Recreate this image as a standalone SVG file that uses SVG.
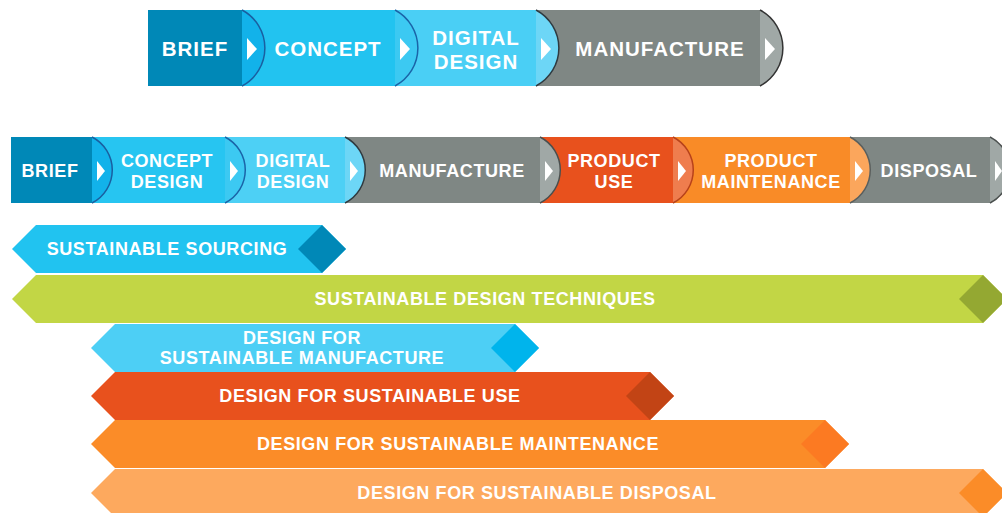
<svg xmlns="http://www.w3.org/2000/svg" width="1002" height="513" viewBox="0 0 1002 513">
<style>
.t{font-family:"Liberation Sans",Arial,sans-serif;font-weight:bold;fill:#fff;text-anchor:middle;dominant-baseline:central}
.t1{font-size:20.5px;letter-spacing:1px}
.t2{font-size:18px;letter-spacing:0.6px}
.t3{font-size:18px;letter-spacing:0.6px}
.tri{fill:#fff}
</style>
<rect width="1002" height="513" fill="#fff"/>
<g id="top-row">
  <g id="top-brief"><rect x="148" y="10" width="94" height="76" fill="#0088b7"/><text class="t t1" x="195" y="48">BRIEF</text></g>
  <g id="top-concept"><rect x="242" y="10" width="153" height="76" fill="#22c3f0"/><text class="t t1" x="328" y="48">CONCEPT</text></g>
  <g id="top-digital"><rect x="395" y="10" width="141" height="76" fill="#4acff5"/><text class="t t1" x="476" y="37">DIGITAL</text><text class="t t1" x="476" y="61">DESIGN</text></g>
  <g id="top-manufacture"><rect x="536" y="10" width="224" height="76" fill="#7f8784"/><text class="t t1" x="660" y="48">MANUFACTURE</text></g>
  <g id="top-tabs">
    <path d="M242,10 A43,43 0 0 1 242,86 Z" fill="#12b2ea"/><path d="M242,10 A43,43 0 0 1 242,86" fill="none" stroke="#1a5fa0" stroke-width="1.5"/><path class="tri" d="M247,38 L257,49 L247,60 Z"/>
    <path d="M395,10 A43,43 0 0 1 395,86 Z" fill="#3cc9f2"/><path d="M395,10 A43,43 0 0 1 395,86" fill="none" stroke="#1a64a8" stroke-width="1.5"/><path class="tri" d="M400,38 L410,49 L400,60 Z"/>
    <path d="M536,10 A43,43 0 0 1 536,86 Z" fill="#6dd6f6"/><path d="M536,10 A43,43 0 0 1 536,86" fill="none" stroke="#2f3a40" stroke-width="1.5"/><path class="tri" d="M541,38 L551,49 L541,60 Z"/>
    <path d="M760,10 A43,43 0 0 1 760,86 Z" fill="#a0a8a6"/><path d="M760,10 A43,43 0 0 1 760,86" fill="none" stroke="#333" stroke-width="1.5"/><path class="tri" d="M765,38 L775,49 L765,60 Z"/>
  </g>
</g>
<g id="second-row">
  <g id="r2-brief"><rect x="11" y="137" width="81" height="66" fill="#0088b7"/><text class="t t2" x="50" y="171">BRIEF</text></g>
  <g id="r2-concept"><rect x="92" y="137" width="133" height="66" fill="#27c5f1"/><text class="t t2" x="167" y="161">CONCEPT</text><text class="t t2" x="167" y="182">DESIGN</text></g>
  <g id="r2-digital"><rect x="225" y="137" width="120" height="66" fill="#4dd0f5"/><text class="t t2" x="293" y="161">DIGITAL</text><text class="t t2" x="293" y="182">DESIGN</text></g>
  <g id="r2-manufacture"><rect x="345" y="137" width="195" height="66" fill="#7f8784"/><text class="t t2" x="452" y="171">MANUFACTURE</text></g>
  <g id="r2-use"><rect x="540" y="137" width="133" height="66" fill="#e8511d"/><text class="t t2" x="614" y="161">PRODUCT</text><text class="t t2" x="614" y="182">USE</text></g>
  <g id="r2-maintenance"><rect x="673" y="137" width="177" height="66" fill="#f98b27"/><text class="t t2" x="771" y="161">PRODUCT</text><text class="t t2" x="771" y="182">MAINTENANCE</text></g>
  <g id="r2-disposal"><rect x="850" y="137" width="140" height="66" fill="#7f8784"/><text class="t t2" x="929" y="171">DISPOSAL</text></g>
  <g id="r2-tabs">
    <path d="M92,137 A37,37 0 0 1 92,203 Z" fill="#12b2ea"/><path d="M92,137 A37,37 0 0 1 92,203" fill="none" stroke="#1a5fa0" stroke-width="1.5"/><path class="tri" d="M97,161 L105,171 L97,181 Z"/>
    <path d="M225,137 A37,37 0 0 1 225,203 Z" fill="#3cc9f2"/><path d="M225,137 A37,37 0 0 1 225,203" fill="none" stroke="#1a64a8" stroke-width="1.5"/><path class="tri" d="M230,161 L238,171 L230,181 Z"/>
    <path d="M345,137 A37,37 0 0 1 345,203 Z" fill="#6dd6f6"/><path d="M345,137 A37,37 0 0 1 345,203" fill="none" stroke="#2f3a40" stroke-width="1.5"/><path class="tri" d="M350,161 L358,171 L350,181 Z"/>
    <path d="M540,137 A37,37 0 0 1 540,203 Z" fill="#a0a8a6"/><path d="M540,137 A37,37 0 0 1 540,203" fill="none" stroke="#4a4f4e" stroke-width="1.5"/><path class="tri" d="M545,161 L553,171 L545,181 Z"/>
    <path d="M673,137 A37,37 0 0 1 673,203 Z" fill="#ef7d4e"/><path d="M673,137 A37,37 0 0 1 673,203" fill="none" stroke="#b8421a" stroke-width="1.5"/><path class="tri" d="M678,161 L686,171 L678,181 Z"/>
    <path d="M850,137 A37,37 0 0 1 850,203 Z" fill="#fba65c"/><path d="M850,137 A37,37 0 0 1 850,203" fill="none" stroke="#5a5f5e" stroke-width="1.5"/><path class="tri" d="M855,161 L863,171 L855,181 Z"/>
    <path d="M990,137 A37,37 0 0 1 990,203 Z" fill="#a0a8a6"/><path d="M990,137 A37,37 0 0 1 990,203" fill="none" stroke="#4a4f4e" stroke-width="1.5"/><path class="tri" d="M995,161 L1002,171 L995,181 Z"/>
  </g>
</g>
<g id="bands">
  <g id="band-sourcing">
    <path d="M12,249 L36,225 L322,225 L346,249 L322,273 L36,273 Z" fill="#21c3f0"/>
    <path d="M298,249 L322,225 L346,249 L322,273 Z" fill="#0088b7"/>
    <text class="t t3" x="167" y="249">SUSTAINABLE SOURCING</text>
  </g>
  <g id="band-techniques">
    <path d="M12,299 L36,275 L983,275 L1007,299 L983,323 L36,323 Z" fill="#c2d645"/>
    <path d="M959,299 L983,275 L1007,299 L983,323 Z" fill="#94a832"/>
    <text class="t t3" x="485" y="299">SUSTAINABLE DESIGN TECHNIQUES</text>
  </g>
  <g id="band-manufacture">
    <path d="M91,348 L115,324 L515,324 L539,348 L515,372 L115,372 Z" fill="#4dcff5"/>
    <path d="M491,348 L515,324 L539,348 L515,372 Z" fill="#00b4ec"/>
    <text class="t t3" x="302" y="338">DESIGN FOR</text>
    <text class="t t3" x="302" y="358">SUSTAINABLE MANUFACTURE</text>
  </g>
  <g id="band-use">
    <path d="M91,396 L115,372 L650,372 L674,396 L650,420 L115,420 Z" fill="#e8511d"/>
    <path d="M626,396 L650,372 L674,396 L650,420 Z" fill="#c24415"/>
    <text class="t t3" x="370" y="396">DESIGN FOR SUSTAINABLE USE</text>
  </g>
  <g id="band-maintenance">
    <path d="M91,444 L115,420 L825,420 L849,444 L825,468 L115,468 Z" fill="#fb8c28"/>
    <path d="M801,444 L825,420 L849,444 L825,468 Z" fill="#fc7a22"/>
    <text class="t t3" x="458" y="444">DESIGN FOR SUSTAINABLE MAINTENANCE</text>
  </g>
  <g id="band-disposal">
    <path d="M91,493 L115,469 L983,469 L1007,493 L983,517 L115,517 Z" fill="#fda95e"/>
    <path d="M959,493 L983,469 L1007,493 L983,517 Z" fill="#fb8c28"/>
    <text class="t t3" x="537" y="493">DESIGN FOR SUSTAINABLE DISPOSAL</text>
  </g>
</g>
</svg>
